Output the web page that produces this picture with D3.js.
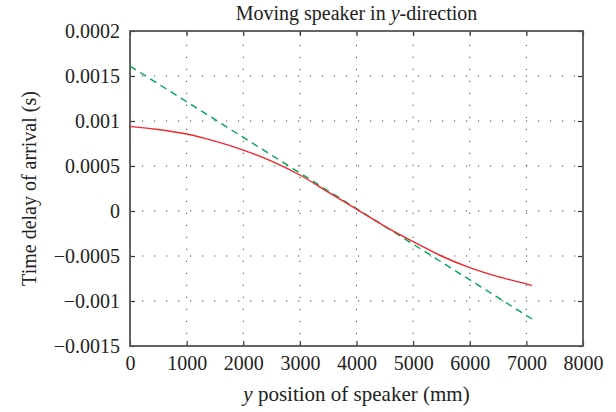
<!DOCTYPE html>
<html>
<head>
<meta charset="utf-8">
<script src="https://cdn.jsdelivr.net/npm/d3@7"></script>
<style>
  body { margin: 0; background: #fff; }
  text { font-family: "Liberation Serif", "DejaVu Serif", serif; fill: #222; }
</style>
</head>
<body>
<div id="chart"></div>
<script>
// red curve: measured time delay
const posRed = [0, 500, 1000, 1500, 2000, 2500, 3000, 3500, 4000, 4500, 5000, 5500, 6000, 6500, 7000, 7100];
const tdoaRed = [0.00094, 0.000905, 0.000855, 0.000776, 0.000677, 0.000555, 0.0004, 0.00021, 0.00002,
                 -0.00017, -0.00034, -0.0005, -0.00063, -0.00073, -0.00081, -0.00083];
// green dashed: linear approximation
const posGreen = [0, 7100];
const tdoaGreen = [0.00161, -0.0012];

const xTicks = [0, 1000, 2000, 3000, 4000, 5000, 6000, 7000, 8000];
const yTicks = [-0.0015, -0.001, -0.0005, 0, 0.0005, 0.001, 0.0015, 0.002];
const yTickLabels = ["\u22120.0015", "\u22120.001", "\u22120.0005", "0", "0.0005", "0.001", "0.0015", "0.0002"];

const W = 616, H = 412;
const margin = {top: 31, right: 33, bottom: 66, left: 130};
const width = W - margin.left - margin.right,
      height = H - margin.top - margin.bottom;

const svg = d3.select("#chart").append("svg")
    .attr("width", W).attr("height", H);

const g = svg.append("g").attr("transform", `translate(${margin.left},${margin.top})`);

const x = d3.scaleLinear().domain([0, 8000]).range([0, width]);
const y = d3.scaleLinear().domain([-0.0015, 0.002]).range([height, 0]);

// dotted grid
g.append("g").selectAll("line")
  .data(xTicks.slice(1, -1)).enter().append("line")
    .attr("x1", d => x(d)).attr("x2", d => x(d))
    .attr("y1", height).attr("y2", 0)
    .attr("stroke", "#444").attr("stroke-width", 1)
    .attr("stroke-dasharray", "1.2,10.8");
g.append("g").selectAll("line")
  .data(yTicks.slice(1, -1)).enter().append("line")
    .attr("y1", d => y(d)).attr("y2", d => y(d))
    .attr("x1", 0).attr("x2", width)
    .attr("stroke", "#444").attr("stroke-width", 1)
    .attr("stroke-dasharray", "1.2,10.8");

// axes, ticks point inward
g.append("g").attr("transform", `translate(0,${height})`)
  .call(d3.axisBottom(x).tickValues(xTicks).tickSize(-5).tickPadding(10).tickFormat(d3.format("d")));
g.append("g")
  .call(d3.axisLeft(y).tickValues(yTicks).tickSize(-5).tickPadding(10).tickFormat((d, i) => yTickLabels[i]));
g.append("g")
  .call(d3.axisTop(x).tickValues(xTicks).tickSize(-5).tickFormat(""));
g.append("g").attr("transform", `translate(${width},0)`)
  .call(d3.axisRight(y).tickValues(yTicks).tickSize(-5).tickFormat(""));

g.selectAll(".domain").remove();
g.selectAll(".tick line").attr("stroke", "#333").attr("stroke-width", 1.2);
g.selectAll(".tick text").attr("font-size", 20).attr("fill", "#222")
  .attr("font-family", "Liberation Serif, serif");

// frame
g.append("rect").attr("x", 0).attr("y", 0).attr("width", width).attr("height", height)
  .attr("fill", "none").attr("stroke", "#555").attr("stroke-width", 1.8);

const line = d3.line().x(d => x(d[0])).y(d => y(d[1]));

g.append("path")
  .datum(posGreen.map((p, i) => [p, tdoaGreen[i]]))
  .attr("d", line).attr("fill", "none")
  .attr("stroke", "#00a651").attr("stroke-width", 1.4)
  .attr("stroke-dasharray", "7,5");

g.append("path")
  .datum(posRed.map((p, i) => [p, tdoaRed[i]]))
  .attr("d", line.curve(d3.curveCatmullRom)).attr("fill", "none")
  .attr("stroke", "#f0282e").attr("stroke-width", 1.4);

// title and labels
svg.append("text").attr("x", margin.left + width / 2).attr("y", 20)
  .attr("text-anchor", "middle").attr("font-size", 20)
  .html('Moving speaker in <tspan font-style="italic">y</tspan>-direction');

svg.append("text").attr("x", margin.left + width / 2).attr("y", 401)
  .attr("text-anchor", "middle").attr("font-size", 21)
  .html('<tspan font-style="italic">y</tspan> position of speaker (mm)');

svg.append("text")
  .attr("transform", `translate(36,${margin.top + height / 2}) rotate(-90)`)
  .attr("text-anchor", "middle").attr("font-size", 20)
  .text("Time delay of arrival (s)");
</script>
</body>
</html>
